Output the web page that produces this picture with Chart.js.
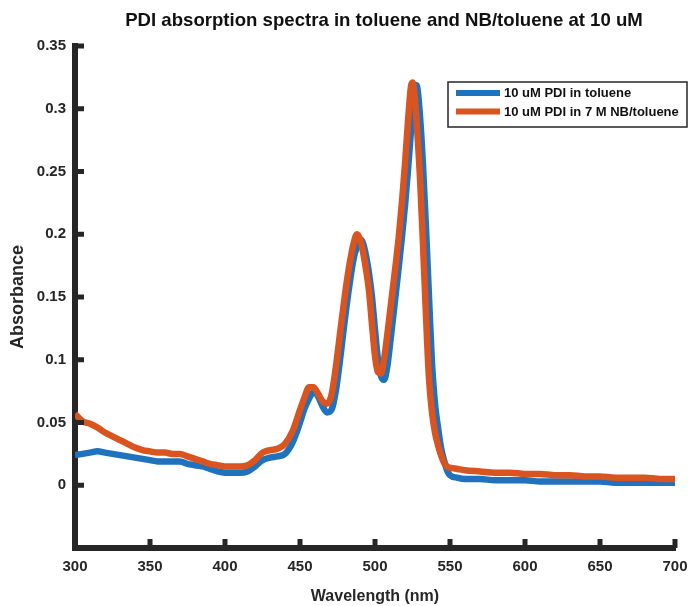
<!DOCTYPE html>
<html>
<head>
<meta charset="utf-8">
<script src="https://cdn.jsdelivr.net/npm/chart.js@4.4.1/dist/chart.umd.min.js"></script>
<style>
  html, body { margin: 0; padding: 0; background: #fff; }
</style>
</head>
<body>
<canvas id="myChart" width="690" height="606"></canvas>
<script>
// wavelength in nm
const wavelength = [300, 305, 310, 315, 320, 325, 330, 335, 340, 345,
    350, 355, 360, 365, 370, 375, 380, 385, 390, 395,
    400, 405, 410, 415, 420, 425, 430, 435, 440, 445, 450,
    453, 456, 459, 462, 465, 468, 471, 474, 477, 480, 483, 486,
    488, 490, 492, 494, 496, 498, 500, 502, 504, 506, 508, 510, 512, 514, 516, 518, 520, 522, 524,
    525, 526, 527, 528,
    530, 532, 534, 536, 538, 540, 542, 544, 546, 548, 550,
    555, 560,
    570, 580, 590, 600, 610, 620, 630, 640, 650, 660, 670, 680, 690, 700]

// 10 uM PDI in toluene
const tolueneAbs = [0.024, 0.025, 0.026, 0.027, 0.026, 0.025, 0.024, 0.023, 0.022, 0.021,
    0.020, 0.019, 0.019, 0.019, 0.019, 0.017, 0.016, 0.015, 0.013, 0.011,
    0.010, 0.010, 0.010, 0.011, 0.015, 0.020, 0.022, 0.023, 0.025, 0.034, 0.050,
    0.061, 0.069, 0.074, 0.071, 0.063, 0.058, 0.060, 0.076, 0.103, 0.133, 0.160, 0.182,
    0.190, 0.196, 0.193, 0.183, 0.169, 0.150, 0.124, 0.100, 0.087, 0.084, 0.093, 0.112, 0.133, 0.154, 0.176, 0.198, 0.223, 0.251, 0.283,
    0.299, 0.311, 0.319, 0.318,
    0.294, 0.255, 0.205, 0.150, 0.097, 0.065, 0.046, 0.030, 0.020, 0.012, 0.008,
    0.006, 0.005,
    0.005, 0.004, 0.004, 0.004, 0.003, 0.003, 0.003, 0.003, 0.003, 0.002, 0.002, 0.002, 0.002, 0.002]

// 10 uM PDI in 7 M NB/toluene
const nbTolueneAbs = [0.057, 0.051, 0.049, 0.046, 0.042, 0.039, 0.036, 0.033, 0.030, 0.028,
    0.027, 0.026, 0.026, 0.025, 0.025, 0.023, 0.021, 0.019, 0.017, 0.016,
    0.015, 0.015, 0.015, 0.016, 0.020, 0.026, 0.028, 0.029, 0.033, 0.043, 0.060,
    0.070, 0.078, 0.078, 0.073, 0.067, 0.065, 0.072, 0.095, 0.124, 0.152, 0.176, 0.194,
    0.200, 0.196, 0.186, 0.172, 0.155, 0.128, 0.103, 0.090, 0.089, 0.100, 0.118, 0.138, 0.158, 0.178, 0.200, 0.226, 0.256, 0.290, 0.318,
    0.321, 0.315, 0.302, 0.285,
    0.245, 0.192, 0.135, 0.085, 0.058, 0.042, 0.032, 0.024, 0.018, 0.015, 0.014,
    0.013, 0.012,
    0.011, 0.010, 0.010, 0.009, 0.009, 0.008, 0.008, 0.007, 0.007, 0.006, 0.006, 0.006, 0.005, 0.005]

const seriesLabels = ['10 uM PDI in toluene', '10 uM PDI in 7 M NB/toluene']
const xTicks = [300, 350, 400, 450, 500, 550, 600, 650, 700]
const yTicks = [0, 0.05, 0.1, 0.15, 0.2, 0.25, 0.3, 0.35]
const chartTitle = 'PDI absorption spectra in toluene and NB/toluene at 10 uM'

const FONT = '"Liberation Sans", Arial, sans-serif'
const AXIS = '#262626'

function toPoints(ys) {
    return wavelength.map((w, i) => ({ x: w, y: ys[i] }))
}

// title, inward ticks and the boxed legend, drawn like the original figure
const figureBits = {
    id: 'figureBits',
    afterDraw(chart) {
        const ctx = chart.ctx
        const xs = chart.scales.x
        const ys = chart.scales.y
        const area = chart.chartArea
        ctx.save()

        ctx.fillStyle = '#111'
        ctx.font = 'bold 18.6px ' + FONT
        ctx.textAlign = 'center'
        ctx.textBaseline = 'middle'
        ctx.fillText(chartTitle, 384, 21)

        ctx.fillStyle = AXIS
        xTicks.forEach(v => {
            const px = xs.getPixelForValue(v)
            ctx.fillRect(px - 2.5, area.bottom - 9, 5, 9)
        })
        yTicks.forEach(v => {
            const py = ys.getPixelForValue(v)
            ctx.fillRect(area.left, py - 2.5, 9, 5)
        })
        ctx.fillRect(area.left - 3, area.bottom - 3, 6, 6)

        // legend
        const bx = 448, by = 82, bw = 239, bh = 45
        ctx.fillStyle = '#fff'
        ctx.fillRect(bx, by, bw, bh)
        ctx.strokeStyle = AXIS
        ctx.lineWidth = 1.5
        ctx.strokeRect(bx, by, bw, bh)
        ctx.font = 'bold 13px ' + FONT
        ctx.textAlign = 'left'
        ctx.textBaseline = 'middle'
        chart.data.datasets.forEach((ds, i) => {
            const y = 93 + i * 18.5
            ctx.strokeStyle = ds.borderColor
            ctx.lineWidth = 6
            ctx.beginPath()
            ctx.moveTo(456, y)
            ctx.lineTo(500, y)
            ctx.stroke()
            ctx.fillStyle = '#111'
            ctx.fillText(ds.label, 504, y + 0.5)
        })
        ctx.restore()
    }
}

const data = {
    datasets: [{
        label: seriesLabels[0],
        data: toPoints(tolueneAbs),
        borderColor: '#1F72BD',
        borderWidth: 6.5,
        pointRadius: 0,
        cubicInterpolationMode: 'monotone',
        order: 1
    }, {
        label: seriesLabels[1],
        data: toPoints(nbTolueneAbs),
        borderColor: '#D9541E',
        borderWidth: 6.5,
        pointRadius: 0,
        cubicInterpolationMode: 'monotone',
        order: 0
    }]
}

let spectraChart = new Chart('myChart', {
    type: 'line',
    data: data,
    options: {
        responsive: false,
        animation: false,
        layout: { padding: { top: 46, right: 15, bottom: 0, left: 0 } },
        plugins: {
            legend: { display: false },
            title: { display: false },
            tooltip: { enabled: false }
        },
        scales: {
            x: {
                type: 'linear',
                min: 300,
                max: 700,
                afterFit: s => { s.height = 58; s.paddingRight = 0; s.paddingLeft = 0 },
                afterBuildTicks: s => { s.ticks = xTicks.map(v => ({ value: v })) },
                grid: { display: false, drawTicks: false },
                border: { display: true, width: 6, color: AXIS },
                ticks: {
                    color: AXIS,
                    padding: 10,
                    maxRotation: 0,
                    font: { family: FONT, size: 15, weight: 'bold' }
                },
                title: {
                    display: true,
                    text: 'Wavelength (nm)',
                    color: AXIS,
                    padding: { top: 0, bottom: 0 },
                    font: { family: FONT, size: 16, weight: 'bold' }
                }
            },
            y: {
                min: -0.05,
                max: 0.35,
                afterFit: s => { s.width = 75 },
                afterBuildTicks: s => { s.ticks = yTicks.map(v => ({ value: v })) },
                grid: { display: false, drawTicks: false },
                border: { display: true, width: 6, color: AXIS },
                ticks: {
                    color: AXIS,
                    padding: 9,
                    font: { family: FONT, size: 15, weight: 'bold' },
                    callback: v => String(+v.toFixed(2))
                },
                title: {
                    display: true,
                    text: 'Absorbance',
                    color: AXIS,
                    padding: { top: 7, bottom: 0 },
                    font: { family: FONT, size: 18, weight: 'bold' }
                }
            }
        }
    },
    plugins: [figureBits]
})
</script>
</body>
</html>
